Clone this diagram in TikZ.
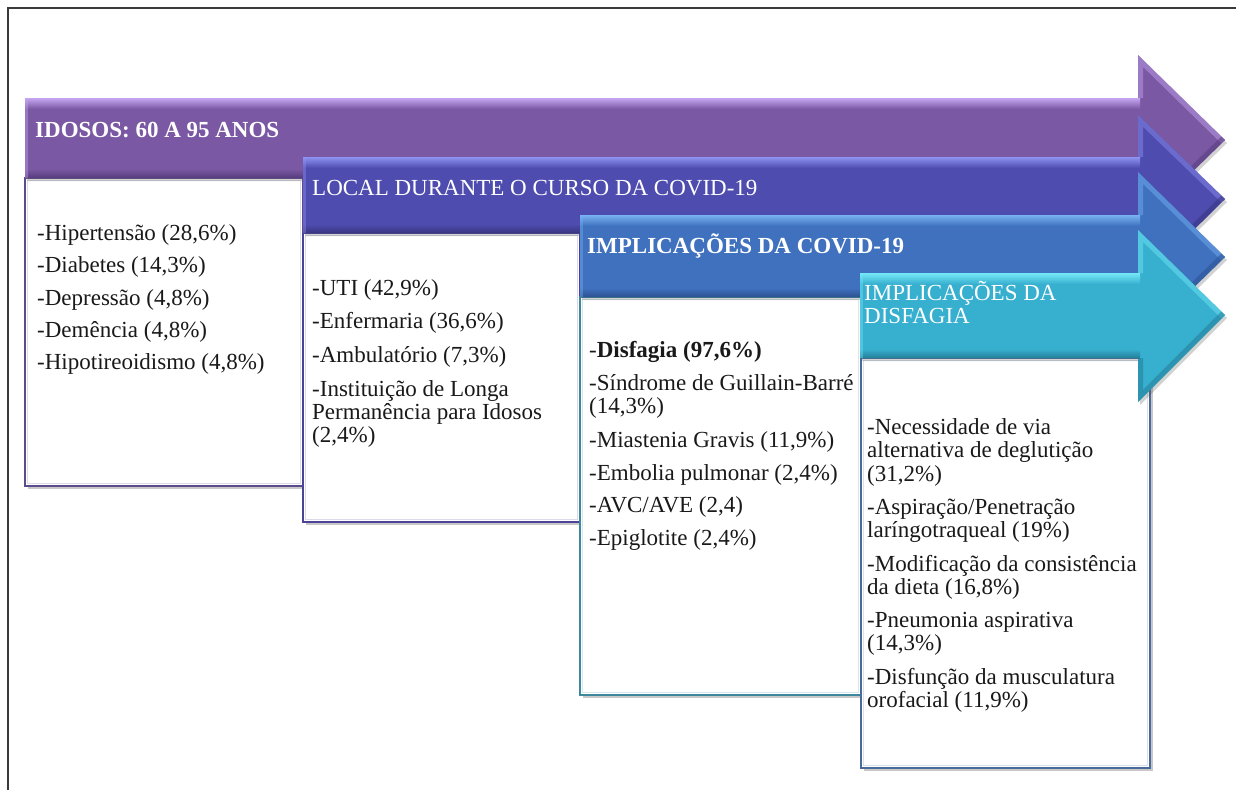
\documentclass[tikz,border=0pt]{standalone}
\usepackage{fontspec}
\setmainfont{Liberation Serif}
\usetikzlibrary{shadows}
\definecolor{aOne}{HTML}{7A58A3}\definecolor{aOneL}{HTML}{C6A6F2}\definecolor{aOneD}{HTML}{553C7E}
\definecolor{aTwo}{HTML}{4E4CAF}\definecolor{aTwoL}{HTML}{8E92F2}\definecolor{aTwoD}{HTML}{38367F}
\definecolor{aThr}{HTML}{3F71BE}\definecolor{aThrL}{HTML}{78B2F2}\definecolor{aThrD}{HTML}{2C5190}
\definecolor{aFou}{HTML}{37AFCF}\definecolor{aFouL}{HTML}{74E8F8}\definecolor{aFouD}{HTML}{237F99}
\definecolor{bOne}{HTML}{5E4B8E}\definecolor{bTwo}{HTML}{4A4396}
\definecolor{bThr}{HTML}{3E889E}\definecolor{bFou}{HTML}{4A6A9C}
\definecolor{frameC}{HTML}{3A3A3A}
\tikzset{
  hdr/.style={anchor=base west, inner sep=0pt, text=white, font=\fontsize{23}{23}\selectfont},
  txt/.style={anchor=base west, inner sep=0pt, text=black!90, font=\fontsize{23}{23}\selectfont},
  boxshadow/.style={drop shadow={shadow xshift=2.5pt, shadow yshift=-3pt, opacity=0.3, fill=black!70}},
  arrshadow/.style={drop shadow={shadow xshift=2pt, shadow yshift=-3pt, opacity=0.25, fill=black!70}},
}
% #1 left x, #2 body top, #3 body bottom, #4 head top, #5 head bottom, #6 tip y, #7 main, #8 light, #9 dark
\newcommand\procarrow[9]{%
  \path[fill=#7, arrshadow] (#1,#2) -- (1138,#2) -- (1138,#4) -- (1225,#6) -- (1138,#5) -- (1138,#3) -- (#1,#3) -- cycle;
  \begin{scope}
    \clip (#1,#2) -- (1138,#2) -- (1138,#4) -- (1225,#6) -- (1138,#5) -- (1138,#3) -- (#1,#3) -- cycle;
    \shade[top color=#8, bottom color=#7] (#1,#2) rectangle (1140,{#2+11});
    \shade[top color=#7, bottom color=#9] (#1,{#3-9}) rectangle (1140,#3);
    \draw[#8, line width=10pt, opacity=.45] (1138,#2) -- (1138,#4) -- (1225,#6);
    \draw[#9, line width=10pt, opacity=.55] (1225,#6) -- (1138,#5) -- (1138,#3);
    \draw[#8, line width=6pt, opacity=.4] (#1,#3) -- (#1,#2);
  \end{scope}}
\newcommand\listbox[6]{%
  \path[fill=white, draw=#5, line width=2.5pt, boxshadow] (#1,#2) rectangle (#3,#4);
  \draw[#6, line width=0.8pt] ({#1+2.3},{#2+2.3}) rectangle ({#3-2.3},{#4-2.3});}
\begin{document}
\begin{tikzpicture}[x=1pt,y=-1pt]
\useasboundingbox (0,0) rectangle (1236,790);
\fill[white] (0,0) rectangle (1236,790);
% frame
\draw[frameC, line width=1.6pt] (8,790) -- (8,8) -- (1236,8);
% boxes
\listbox{25}{178}{303}{486}{bOne}{bOne!20}
\listbox{303}{233}{580}{522}{bTwo}{bTwo!20}
\listbox{580}{297}{861}{695}{bThr}{bThr!20}
\listbox{861}{358}{1150}{768}{bFou}{bFou!20}
% arrows
\procarrow{25}{98}{178}{55}{225}{140}{aOne}{aOneL}{aOneD}
\procarrow{303}{157}{233}{115}{285}{199}{aTwo}{aTwoL}{aTwoD}
\procarrow{580}{215}{297}{172}{342}{257}{aThr}{aThrL}{aThrD}
\procarrow{860}{273}{358}{230}{402}{315}{aFou}{aFouL}{aFouD}
% headers
\node[hdr] (h1) at (35,137) {\bfseries IDOSOS: 60 A 95 ANOS};
\node[hdr] (h2) at (312,195) {LOCAL DURANTE O CURSO DA COVID-19};
\node[hdr] (h3) at (587,253) {\bfseries IMPLICAÇÕES DA COVID-19};
\node[hdr] (h4a) at (864,300) {IMPLICAÇÕES DA};
\node[hdr] (h4b) at (864,323) {DISFAGIA};
% box 1
\node[txt] (t11) at (37,240) {-Hipertensão (28,6\%)};
\node[txt] (t12) at (37,272) {-Diabetes (14,3\%)};
\node[txt] (t13) at (37,305) {-Depressão (4,8\%)};
\node[txt] (t14) at (37,337) {-Demência (4,8\%)};
\node[txt] (t15) at (37,369) {-Hipotireoidismo (4,8\%)};
% box 2
\node[txt] (t21) at (312,295) {-UTI (42,9\%)};
\node[txt] (t22) at (312,328) {-Enfermaria (36,6\%)};
\node[txt] (t23) at (312,362) {-Ambulatório (7,3\%)};
\node[txt] (t24) at (312,396) {-Instituição de Longa};
\node[txt] (t25) at (312,419) {Permanência para Idosos};
\node[txt] (t26) at (312,442) {(2,4\%)};
% box 3
\node[txt] (t31) at (589,357) {-{\bfseries Disfagia (97,6\%)}};
\node[txt] (t32) at (589,390) {-Síndrome de Guillain-Barré};
\node[txt] (t33) at (589,413) {(14,3\%)};
\node[txt] (t34) at (589,447) {-Miastenia Gravis (11,9\%)};
\node[txt] (t35) at (589,480) {-Embolia pulmonar (2,4\%)};
\node[txt] (t36) at (589,512) {-AVC/AVE (2,4)};
\node[txt] (t37) at (589,545) {-Epiglotite (2,4\%)};
% box 4
\node[txt] (t41) at (867,434) {-Necessidade de via};
\node[txt] (t42) at (867,457) {alternativa de deglutição};
\node[txt] (t43) at (867,481) {(31,2\%)};
\node[txt] (t44) at (867,514) {-Aspiração/Penetração};
\node[txt] (t45) at (867,537) {laríngotraqueal (19\%)};
\node[txt] (t46) at (867,571) {-Modificação da consistência};
\node[txt] (t47) at (867,594) {da dieta (16,8\%)};
\node[txt] (t48) at (867,627) {-Pneumonia aspirativa};
\node[txt] (t49) at (867,650) {(14,3\%)};
\node[txt] (t410) at (867,684) {-Disfunção da musculatura};
\node[txt] (t411) at (867,707) {orofacial (11,9\%)};
\end{tikzpicture}
\end{document}
